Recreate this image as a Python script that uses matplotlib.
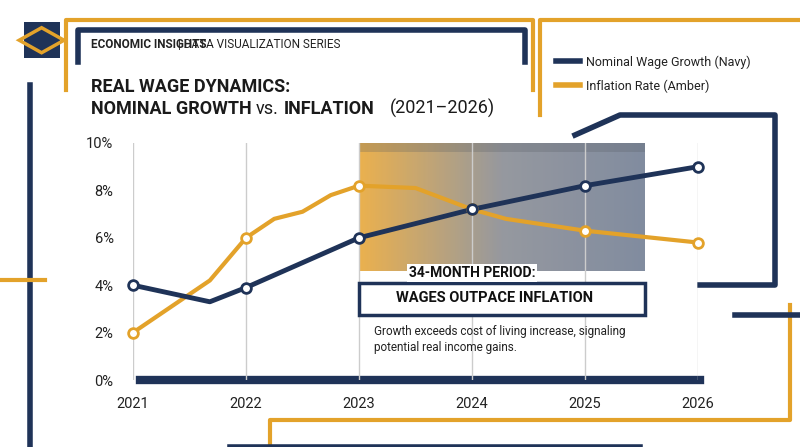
import matplotlib.pyplot as plt
import matplotlib.patches as mpatches
from matplotlib.lines import Line2D
from matplotlib.colors import LinearSegmentedColormap
import numpy as np

plt.rcParams['font.family'] = ['Roboto', 'DejaVu Sans']

NAVY = '#1f3358'
AMBER = '#e3a22a'

wage_x = [2021, 2021.68, 2022, 2023, 2024, 2025, 2026]
wage_y = [4.0, 3.3, 3.9, 6.0, 7.2, 8.2, 9.0]
wage_mark_x = [2021, 2022, 2023, 2024, 2025, 2026]
wage_mark_y = [4.0, 3.9, 6.0, 7.2, 8.2, 9.0]

infl_x = [2021, 2021.68, 2022, 2022.25, 2022.5, 2022.75, 2023, 2023.5, 2024, 2024.3, 2025, 2026]
infl_y = [2.0, 4.2, 6.0, 6.8, 7.1, 7.8, 8.2, 8.1, 7.2, 6.8, 6.3, 5.8]
infl_mark_x = [2021, 2022, 2023, 2024, 2025, 2026]
infl_mark_y = [2.0, 6.0, 8.2, 7.2, 6.3, 5.8]

years = [2021, 2022, 2023, 2024, 2025, 2026]
yticks = [0, 2, 4, 6, 8, 10]

fig = plt.figure(figsize=(8, 4.47), dpi=100)
fig.patch.set_facecolor('white')

H = 447.0
W = 800.0
def P(xs, ys, c, lw):
    # decorative frame line in pixel coords
    fig.add_artist(Line2D([x / W for x in xs], [1 - y / H for y in ys], color=c, lw=lw,
                          transform=fig.transFigure, zorder=0))

P([78, 78, 525, 525], [62, 30, 30, 62], NAVY, 4)
P([66, 66, 533, 533], [90, 20, 20, 90], AMBER, 3)
P([30, 30], [447, 85], NAVY, 4)
P([0, 45], [280, 280], AMBER, 3)
P([540, 540, 800], [115, 20, 20], AMBER, 3)
P([575, 620, 775, 775, 700], [135, 115, 115, 285, 285], NAVY, 4)
P([270, 270, 790, 790], [447, 420, 420, 305], AMBER, 3)
P([140, 700], [380, 380], NAVY, 6)
P([735, 800], [315, 315], NAVY, 4)
P([230, 640], [447, 447], NAVY, 4)

# logo
fig.add_artist(mpatches.Rectangle((0.03, 0.87), 0.045, 0.08, fc=NAVY, ec='none', transform=fig.transFigure))
fig.add_artist(mpatches.RegularPolygon((0.052, 0.91), 4, radius=0.028, fc='none', ec=AMBER, lw=2.5,
                                       transform=fig.transFigure))

fig.text(0.114, 0.893, 'ECONOMIC INSIGHTS', fontsize=8.5, fontweight='bold', color='#222222')
fig.text(0.222, 0.893, '| DATA VISUALIZATION SERIES', fontsize=8.5, color='#222222')
fig.text(0.114, 0.795, 'REAL WAGE DYNAMICS:', fontsize=13, fontweight='bold', color='#1a1a1a')
fig.text(0.114, 0.745, 'NOMINAL GROWTH', fontsize=13, fontweight='bold', color='#1a1a1a')
fig.text(0.32, 0.745, 'vs.', fontsize=13, color='#1a1a1a')
fig.text(0.355, 0.745, 'INFLATION', fontsize=13, fontweight='bold', color='#1a1a1a')
fig.text(0.487, 0.745, '(2021–2026)', fontsize=13, color='#1a1a1a')

# legend
fig.add_artist(Line2D([0.695, 0.725], [0.863, 0.863], color=NAVY, lw=4, transform=fig.transFigure))
fig.text(0.733, 0.852, 'Nominal Wage Growth (Navy)', fontsize=9, color='#222222')
fig.add_artist(Line2D([0.695, 0.725], [0.81, 0.81], color=AMBER, lw=4, transform=fig.transFigure))
fig.text(0.733, 0.799, 'Inflation Rate (Amber)', fontsize=9, color='#222222')

ax = fig.add_axes([133 / W, 1 - 380 / H, (698 - 133) / W, (380 - 143) / H])
ax.set_facecolor('none')
ax.set_xlim(2021, 2026)
ax.set_ylim(0, 10)
ax.set_xticks(years)
ax.set_xticklabels([str(y) for y in years])
ax.set_yticks(yticks)
ax.set_yticklabels([f'{v}%' for v in yticks])
ax.grid(axis='x', color='#cccccc', lw=1)
for s in ax.spines.values():
    s.set_visible(False)
ax.tick_params(length=0, labelsize=10.5, colors='#222222')
ax.tick_params(axis='x', pad=12)
ax.tick_params(axis='y', pad=14)

# shaded period gradient
grad = np.linspace(0, 1, 256).reshape(1, -1)
cm = LinearSegmentedColormap.from_list('g', ['#e9a83a', '#8a8d94', '#737f94'])
ax.imshow(grad, cmap=cm, extent=[2023, 2025.53, 4.6, 10], aspect='auto', alpha=0.9, zorder=1)
ax.add_patch(mpatches.Rectangle((2023, 9.6), 2.53, 0.4, fc='#555a60', ec='none', alpha=0.25, zorder=1))

ax.plot(infl_x, infl_y, color=AMBER, lw=3, zorder=3)
ax.plot(wage_x, wage_y, color=NAVY, lw=3.5, zorder=4)
ax.plot(infl_mark_x, infl_mark_y, 'o', ms=7, mfc='white', mec=AMBER, mew=2, zorder=5, clip_on=False)
ax.plot(wage_mark_x, wage_mark_y, 'o', ms=7, mfc='white', mec=NAVY, mew=2, zorder=6, clip_on=False)

# annotation box
ax.add_patch(mpatches.Rectangle((2023.0, 2.75), 2.53, 1.35, fc='white', ec=NAVY, lw=2.5, zorder=7, clip_on=False))
ax.text(2024.0, 4.5, '34-MONTH PERIOD:', ha='center', va='center', fontsize=10, fontweight='bold',
        color='#111111', zorder=8, bbox=dict(fc='white', ec='none', pad=1.5))
ax.text(2024.2, 3.45, 'WAGES OUTPACE INFLATION', ha='center', va='center', fontsize=10.5,
        fontweight='bold', color='#111111', zorder=8)
ax.text(2023.13, 1.7, 'Growth exceeds cost of living increase, signaling\npotential real income gains.',
        fontsize=8.5, color='#222222', va='center', zorder=8, linespacing=1.3)

fig.savefig('out.png', dpi=100)
